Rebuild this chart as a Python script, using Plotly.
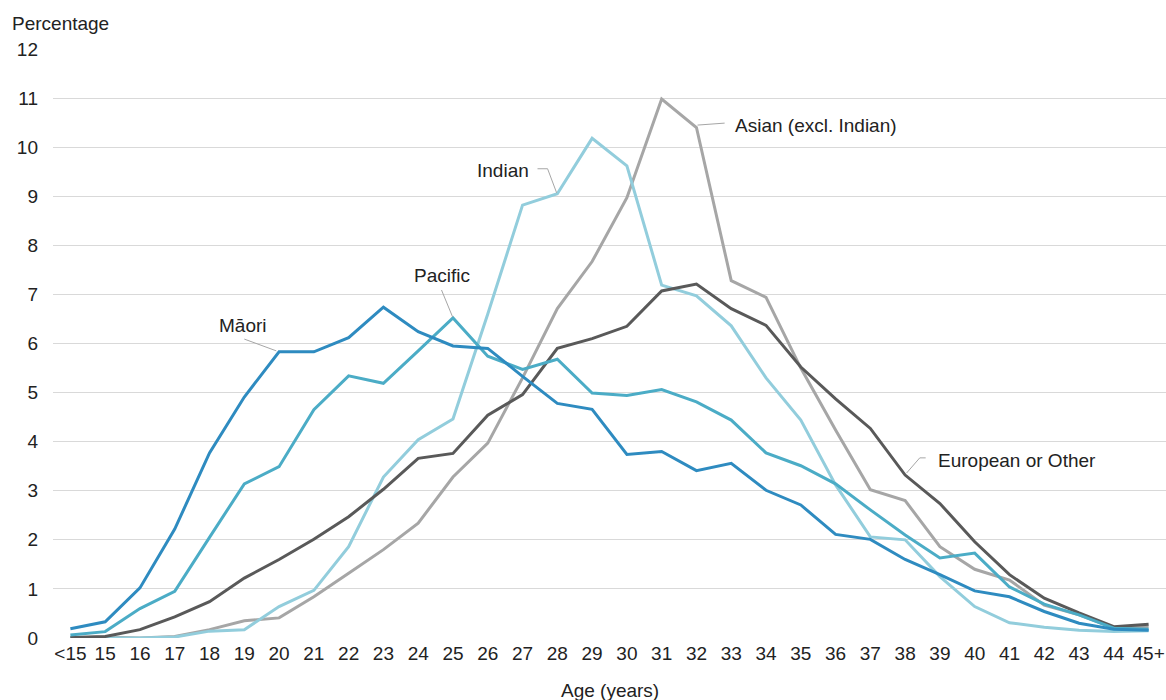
import plotly.graph_objects as go

ages = ["<15"] + [str(a) for a in range(15, 45)] + ["45+"]

maori = [0.19, 0.33, 1.02, 2.22, 3.77, 4.91, 5.83, 5.83, 6.12, 6.74, 6.24, 5.95, 5.90, 5.33,
         4.78, 4.66, 3.74, 3.80, 3.41, 3.56, 3.01, 2.71, 2.11, 2.01, 1.60, 1.29, 0.96, 0.84,
         0.54, 0.30, 0.18, 0.16]
pacific = [0.06, 0.13, 0.60, 0.95, 2.05, 3.14, 3.49, 4.65, 5.34, 5.19, 5.85, 6.52, 5.74, 5.47,
           5.68, 4.99, 4.94, 5.06, 4.81, 4.44, 3.77, 3.51, 3.14, 2.61, 2.10, 1.63, 1.73, 1.04,
           0.69, 0.47, 0.20, 0.18]
indian = [0.00, 0.00, 0.00, 0.02, 0.14, 0.17, 0.64, 0.97, 1.86, 3.28, 4.04, 4.46, 6.60, 8.82,
          9.05, 10.18, 9.62, 7.19, 6.97, 6.36, 5.30, 4.44, 3.12, 2.06, 2.00, 1.25, 0.64, 0.31,
          0.22, 0.16, 0.13, 0.15]
asian = [0.00, 0.02, 0.00, 0.03, 0.17, 0.35, 0.41, 0.84, 1.32, 1.80, 2.34, 3.28, 3.97, 5.30,
         6.71, 7.67, 8.97, 10.98, 10.40, 7.28, 6.94, 5.50, 4.24, 3.02, 2.80, 1.86, 1.40, 1.18,
         0.67, 0.47, 0.21, 0.23]
european = [0.01, 0.03, 0.17, 0.43, 0.74, 1.22, 1.60, 2.01, 2.47, 3.03, 3.66, 3.76, 4.54, 4.96,
            5.90, 6.10, 6.35, 7.07, 7.21, 6.71, 6.37, 5.52, 4.87, 4.27, 3.32, 2.74, 1.96, 1.29,
            0.81, 0.51, 0.23, 0.28]

series = [
    ("Asian (excl. Indian)", asian, "#A6A6A6"),
    ("Indian", indian, "#92CDDC"),
    ("European or Other", european, "#595959"),
    ("Pacific", pacific, "#4BACC6"),
    ("Māori", maori, "#2E8BC0"),
]

FONT = "Liberation Sans, Arial, sans-serif"
FS = 19
idx = list(range(len(ages)))

fig = go.Figure()
for name, vals, col in series:
    fig.add_trace(go.Scatter(x=idx, y=vals, mode="lines", name=name,
                             line=dict(color=col, width=3)))

# series labels with thin leader lines (x in category index, y in percent)
labels = [
    ("Māori", 4.95, 6.36, "center", [(5.0, 6.09), (5.92, 5.85)]),
    ("Pacific", 10.67, 7.38, "center", [(10.67, 7.09), (10.99, 6.54)]),
    ("Indian", 13.23, 9.52, "right", [(13.43, 9.56), (13.72, 9.56), (13.98, 9.07)]),
    ("Asian (excl. Indian)", 19.04, 10.45, "left", [(18.03, 10.45), (18.81, 10.49)]),
    ("European or Other", 24.9, 3.62, "left", [(24.04, 3.36), (24.42, 3.67), (24.59, 3.67)]),
]
for text, lx, ly, anchor, pts in labels:
    fig.add_annotation(x=lx, y=ly, text=text, showarrow=False, xanchor=anchor,
                       yanchor="middle", font=dict(size=FS, color="#222222", family=FONT))
    fig.add_trace(go.Scatter(x=[p[0] for p in pts], y=[p[1] for p in pts], mode="lines",
                             line=dict(color="#A6A6A6", width=1), hoverinfo="skip",
                             showlegend=False))

fig.add_annotation(xref="paper", yref="paper", x=-0.039, y=1.0 + 26 / 589, text="Percentage",
                   showarrow=False, xanchor="left", yanchor="middle",
                   font=dict(size=FS, color="#222222", family=FONT))
fig.add_annotation(xref="paper", yref="paper", x=0.5, y=-52 / 589, text="Age (years)",
                   showarrow=False, xanchor="center", yanchor="middle",
                   font=dict(size=FS, color="#222222", family=FONT))

fig.update_layout(
    width=1166, height=700,
    margin=dict(l=53, r=0, t=49, b=62),
    paper_bgcolor="white", plot_bgcolor="white",
    showlegend=False,
    font=dict(family=FONT, size=FS, color="#222222"),
)
fig.update_xaxes(tickmode="array", tickvals=idx, ticktext=ages, range=[-0.5, len(ages) - 0.5],
                 showgrid=False, zeroline=False, showline=False, ticks="",
                 tickfont=dict(size=FS), ticklabelstandoff=2)
fig.update_yaxes(range=[0, 12], dtick=1, showgrid=True, gridcolor="#D9D9D9", gridwidth=1,
                 zeroline=False, showline=False, ticks="", tickfont=dict(size=FS),
                 ticklabelstandoff=14)

fig.write_html("out.html", config={"displayModeBar": False},
               post_script="document.body.style.margin='0px';")
